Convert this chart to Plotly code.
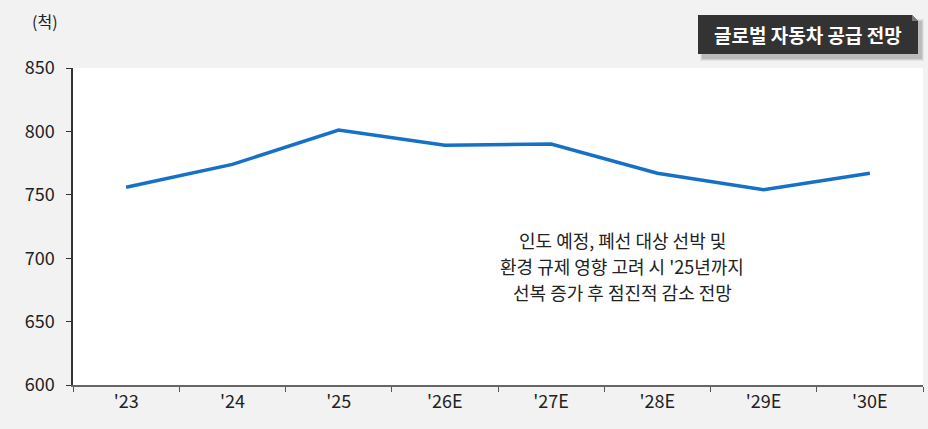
import plotly.graph_objects as go

categories = ["'23", "'24", "'25", "'26E", "'27E", "'28E", "'29E", "'30E"]
values = [756, 774, 801, 789, 790, 767, 754, 767]
y_ticks = [600, 650, 700, 750, 800, 850]
title_text = "글로벌 자동차 공급 전망"
unit_text = "(척)"
note_lines = ["인도 예정, 폐선 대상 선박 및",
              "환경 규제 영향 고려 시 '25년까지",
              "선복 증가 후 점진적 감소 전망"]

FONT = "Noto Sans CJK KR"

fig = go.Figure()
fig.add_trace(go.Scatter(
    x=categories, y=values, mode="lines",
    line=dict(color="#1570c8", width=3.5),
    hoverinfo="skip", showlegend=False,
))

L, R, T, B = 73, 5, 68, 44
W, H = 928, 429
pw, ph = W - L - R, H - T - B

def px(x):
    return (x - L) / pw

def py(y):
    return (H - B - y) / ph

shapes = []
# soft shadow
for i, a in enumerate([0.06, 0.08, 0.10]):
    shapes.append(dict(type="rect", xref="paper", yref="paper",
                       x0=px(700 + i), x1=px(924 - i), y0=py(61 - i), y1=py(19 + i),
                       fillcolor=f"rgba(0,0,0,{a})", line=dict(width=0), layer="above"))
# dark box with folded corner
x0, x1, y0, y1 = px(698), px(918), py(54), py(15)
fx, fy = px(912), py(21)
shapes.append(dict(type="path", xref="paper", yref="paper",
                   path=f"M {x0},{y0} L {x1},{y0} L {x1},{fy} L {fx},{y1} L {x0},{y1} Z",
                   fillcolor="#333333", line=dict(width=0), layer="above"))
shapes.append(dict(type="path", xref="paper", yref="paper",
                   path=f"M {fx},{y1} L {fx},{fy} L {x1},{fy} Z",
                   fillcolor="#7a7a7a", line=dict(width=0), layer="above"))

annotations = [
    dict(text=f"<b>{title_text}</b>", xref="paper", yref="paper",
         x=px(808), y=py(35), xanchor="center", yanchor="middle",
         showarrow=False, font=dict(family=FONT, size=19, color="white")),
    dict(text=unit_text, xref="paper", yref="paper",
         x=px(45), y=py(21), xanchor="center", yanchor="middle",
         showarrow=False, font=dict(family=FONT, size=16, color="#222222")),
]
for i, line in enumerate(note_lines):
    annotations.append(dict(text=line, xref="paper", yref="paper",
                            x=px(622), y=py(240 + 26 * i), xanchor="center", yanchor="middle",
                            showarrow=False,
                            font=dict(family=FONT, size=18, color="#222222")))

fig.update_layout(
    width=W, height=H,
    margin=dict(l=L, r=R, t=T, b=B),
    paper_bgcolor="#f2f2f2", plot_bgcolor="white",
    font=dict(family=FONT, size=18, color="#222222"),
    shapes=shapes, annotations=annotations,
    xaxis=dict(
        type="category", range=[-0.5, len(categories) - 0.5],
        showline=True, linecolor="#666666", linewidth=1.5,
        ticks="outside", ticklen=5, tickcolor="#555555",
        tickson="boundaries", showgrid=False, zeroline=False,
        tickfont=dict(family=FONT, size=18, color="#222222"),
    ),
    yaxis=dict(
        range=[600, 850], tickvals=y_ticks,
        showline=True, linecolor="#333333", linewidth=1.5,
        ticks="outside", ticklen=5, tickcolor="#333333",
        ticklabelstandoff=8,
        showgrid=False, zeroline=False,
        tickfont=dict(family=FONT, size=18, color="#222222"),
    ),
)

fig.write_html("out.html")
